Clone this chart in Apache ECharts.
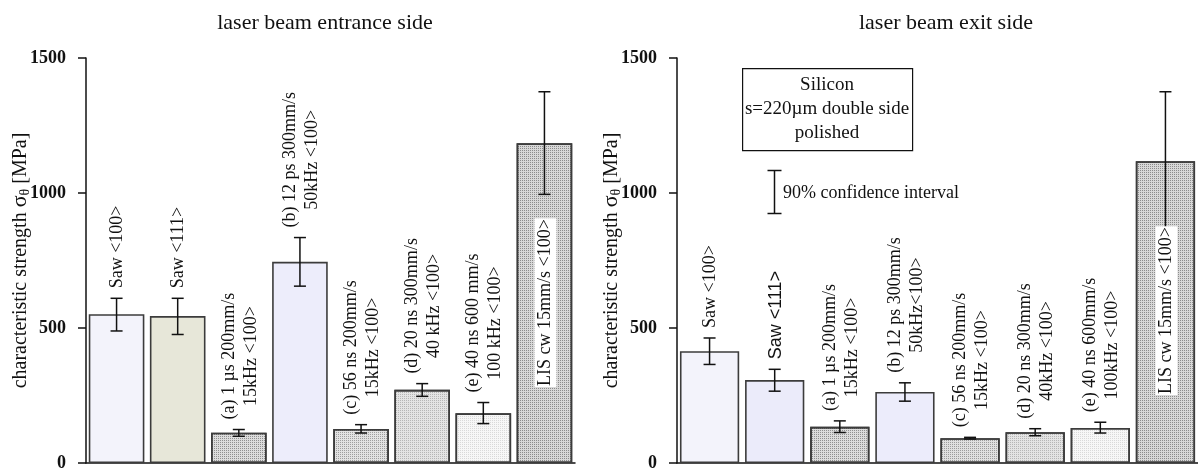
<!DOCTYPE html>
<html>
<head>
<meta charset="utf-8">
<script src="https://cdn.jsdelivr.net/npm/echarts@6/dist/echarts.min.js"></script>
<style>
  html, body { margin: 0; padding: 0; background: #fff; }
  #main { width: 1198px; height: 472px; }
</style>
</head>
<body>
<div id="main"></div>
<script>
// characteristic strength sigma_theta [MPa]
const categories = ['Saw <100>', 'Saw <111>', '(a)', '(b)', '(c)', '(d)', '(e)', 'LIS'];
const yTicks = [0, 500, 1000, 1500];

// laser beam entrance side
const entranceLabels = [
  ['Saw <100>'],
  ['Saw <111>'],
  ['(a) 1 µs 200mm/s', '15kHz <100>'],
  ['(b) 12 ps 300mm/s', '50kHz <100>'],
  ['(c) 56 ns 200mm/s', '15kHz <100>'],
  ['(d) 20 ns 300mm/s', '40 kHz <100>'],
  ['(e) 40 ns 600 mm/s', '100 kHz <100>'],
  ['LIS cw 15mm/s <100>']
];
const entranceValues = [551, 544, 112, 745, 126, 271, 184, 1184];
const entranceLow = [489, 476, 99, 655, 111, 247, 146, 995];
const entranceHigh = [610, 610, 124, 835, 142, 294, 224, 1375];

// laser beam exit side
const exitLabels = [
  ['Saw <100>'],
  ['Saw <111>'],
  ['(a) 1 µs 200mm/s', '15kHz <100>'],
  ['(b) 12 ps 300mm/s', '50kHz<100>'],
  ['(c) 56 ns 200mm/s', '15kHz <100>'],
  ['(d) 20 ns 300mm/s', '40kHz <100>'],
  ['(e) 40 ns 600mm/s', '100kHz <100>'],
  ['LIS cw 15mm/s <100>']
];
const exitValues = [414, 307, 134, 263, 92, 114, 130, 1118];
const exitLow = [365, 266, 113, 229, 89, 101, 111, 861];
const exitHigh = [463, 347, 156, 297, 95, 127, 151, 1375];

const SERIF = '"Liberation Serif", "Times New Roman", serif';
const SANS = '"Liberation Sans", Arial, sans-serif';

// bar fills (styles only)
const entranceFills = ['#f3f3fb', '#e7e7d9', '#dcdcdc', '#ededfb', '#e2e2e2', '#e4e4e4', '#f7f7f7', '#d8d8d8'];
const exitFills = ['#f3f3fb', '#ebebfa', '#dcdcdc', '#ececfb', '#e0e0e0', '#e4e4e4', '#f7f7f7', '#d8d8d8'];
const dotted = [false, false, true, false, true, true, true, true];
const dotAlpha = [0, 0, 0.35, 0, 0.3, 0.2, 0.12, 0.35];

function barData(values, fills) {
  return values.map((v, i) => {
    const itemStyle = { color: fills[i] };
    if (dotted[i]) {
      itemStyle.decal = {
        symbol: 'rect', symbolSize: 1,
        dashArrayX: [1, 1], dashArrayY: [1, 1],
        rotation: 0, color: 'rgba(0,0,0,' + dotAlpha[i] + ')'
      };
    }
    return { value: v, itemStyle: itemStyle };
  });
}

function errorItem(lows, highs, labels, fontFor, insideLift) {
  return function (params, api) {
    const i = params.dataIndex;
    const top = api.coord([i, highs[i]]);
    const bot = api.coord([i, lows[i]]);
    const x = top[0];
    const cap = 6;
    const st = { stroke: '#111', lineWidth: 1.5 };
    const kids = [
      { type: 'line', shape: { x1: x, y1: top[1], x2: x, y2: bot[1] }, style: st },
      { type: 'line', shape: { x1: x - cap, y1: top[1], x2: x + cap, y2: top[1] }, style: st },
      { type: 'line', shape: { x1: x - cap, y1: bot[1], x2: x + cap, y2: bot[1] }, style: st }
    ];
    const last = i === labels.length - 1;
    const base = api.coord([i, 0]);
    const ay = last ? base[1] - insideLift : top[1] - 10;
    const font = fontFor(i);
    kids.push({
      type: 'text',
      x: x + 1,
      y: ay,
      rotation: Math.PI / 2,
      z2: 10,
      style: {
        text: labels[i].map(l => '{c|' + l + '}').join('\n'),
        rich: { c: { align: 'center', font: font, lineHeight: 22 } },
        font: font,
        align: 'left',
        verticalAlign: 'middle',
        fill: '#111',
        backgroundColor: last ? '#fff' : null,
        padding: last ? [0, 1, 0, 1] : 0
      }
    });
    return { type: 'group', children: kids };
  };
}

const axisName = {
  rich: {
    a: { fontFamily: SERIF, fontSize: 20, color: '#111' },
    g: { fontFamily: SERIF, fontSize: 22, color: '#111' },
    s: { fontFamily: SERIF, fontSize: 14, color: '#111', padding: [9, 0, 0, 0] }
  }
};
const axisNameText = '{a|characteristic strength }{g|σ}{s|θ}{a| [MPa]}';

function yAxis(idx) {
  return {
    type: 'value', gridIndex: idx, min: 0, max: 1500, interval: 500,
    name: axisNameText, nameLocation: 'middle', nameGap: 54, nameRotate: 90,
    nameMoveOverlap: false,
    nameTextStyle: axisName,
    axisLine: { show: true, lineStyle: { color: '#111', width: 1.5 } },
    axisTick: { show: true, length: 8, lineStyle: { color: '#111', width: 1.5 } },
    splitLine: { show: false },
    axisLabel: {
      margin: 20, color: '#111', fontFamily: SERIF, fontSize: 18, fontWeight: 'bold',
      formatter: v => (yTicks.indexOf(v) >= 0 ? String(v) : '')
    }
  };
}

function xAxis(idx) {
  return {
    type: 'category', gridIndex: idx, data: categories,
    axisLine: { show: true, lineStyle: { color: '#111', width: 1.5 } },
    axisTick: { show: false }, axisLabel: { show: false }
  };
}

const barStyle = { borderColor: '#3c3c3c', borderWidth: 1.6 };

const chart = echarts.init(document.getElementById('main'), null, { renderer: 'canvas' });
chart.setOption({
  animation: false,
  backgroundColor: '#fff',
  title: [
    { text: 'laser beam entrance side', left: 320, top: 7, textAlign: 'center',
      textStyle: { fontFamily: SERIF, fontSize: 22, fontWeight: 'normal', color: '#111' } },
    { text: 'laser beam exit side', left: 941, top: 7, textAlign: 'center',
      textStyle: { fontFamily: SERIF, fontSize: 22, fontWeight: 'normal', color: '#111' } }
  ],
  grid: [
    { left: 86, top: 58, width: 489, height: 405 },
    { left: 677, top: 58, width: 521, height: 405 }
  ],
  xAxis: [xAxis(0), xAxis(1)],
  yAxis: [yAxis(0), yAxis(1)],
  series: [
    {
      type: 'bar', xAxisIndex: 0, yAxisIndex: 0, barCategoryGap: '9%',
      itemStyle: barStyle, data: barData(entranceValues, entranceFills)
    },
    {
      type: 'custom', xAxisIndex: 0, yAxisIndex: 0, z: 5,
      renderItem: errorItem(entranceLow, entranceHigh, entranceLabels,
        () => '18px ' + SERIF, 76),
      data: entranceValues.map((v, i) => [i, v])
    },
    {
      type: 'bar', xAxisIndex: 1, yAxisIndex: 1, barCategoryGap: '9%',
      itemStyle: barStyle, data: barData(exitValues, exitFills)
    },
    {
      type: 'custom', xAxisIndex: 1, yAxisIndex: 1, z: 5,
      renderItem: errorItem(exitLow, exitHigh, exitLabels,
        i => (i === 1 ? '18px ' + SANS : '18px ' + SERIF), 68),
      data: exitValues.map((v, i) => [i, v])
    }
  ],
  graphic: [
    {
      type: 'rect', left: 742, top: 68, z: 20,
      shape: { width: 170, height: 82 },
      style: { fill: '#fff', stroke: '#111', lineWidth: 1.2 }
    },
    {
      type: 'text', x: 827, y: 109, z: 21,
      style: {
        text: 'Silicon\ns=220µm double side\npolished',
        font: '19px ' + SERIF, fill: '#111', align: 'center', verticalAlign: 'middle', lineHeight: 24
      }
    },
    {
      type: 'group', left: 765, top: 168, z: 20,
      children: [
        { type: 'line', shape: { x1: 7, y1: 0, x2: 7, y2: 43 }, style: { stroke: '#111', lineWidth: 1.5 } },
        { type: 'line', shape: { x1: 0, y1: 0, x2: 14, y2: 0 }, style: { stroke: '#111', lineWidth: 1.5 } },
        { type: 'line', shape: { x1: 0, y1: 43, x2: 14, y2: 43 }, style: { stroke: '#111', lineWidth: 1.5 } }
      ]
    },
    {
      type: 'text', x: 783, y: 193, z: 21,
      style: { text: '90% confidence interval', font: '18px ' + SERIF, fill: '#111', align: 'left', verticalAlign: 'middle' }
    }
  ]
});
</script>
</body>
</html>
